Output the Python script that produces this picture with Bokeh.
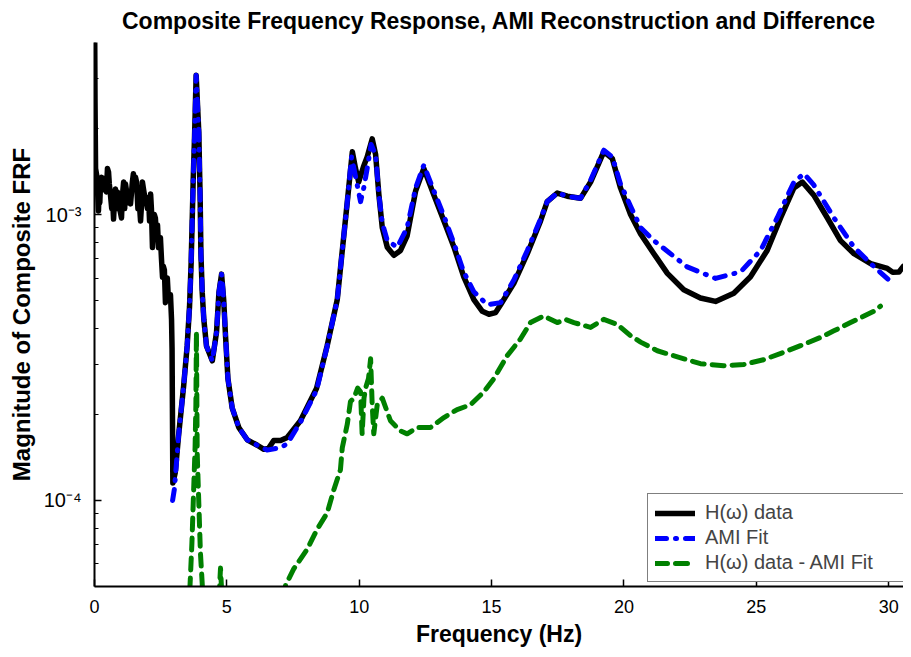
from bokeh.plotting import figure
from bokeh.models import Range1d, Legend, LegendItem, FixedTicker
from bokeh.embed import file_html
from bokeh.resources import INLINE

TITLE = "Composite Frequency Response, AMI Reconstruction and Difference"
X_LABEL = "Frequency (Hz)"
Y_LABEL = "Magnitude of Composite FRF"

x_ticks = [0, 5, 10, 15, 20, 25, 30]
y_tick_values = [1e-4, 1e-3]
y_tick_labels = ["10\u207b\u2074", "10\u207b\u00b3"]
y_minor_ticks = [6e-5, 7e-5, 8e-5, 9e-5,
                 2e-4, 3e-4, 4e-4, 5e-4, 6e-4, 7e-4, 8e-4, 9e-4,
                 2e-3, 3e-3]

# H(omega) data
black_f = [0.00, 0.02, 0.04, 0.08, 0.11, 0.15, 0.17, 0.20, 0.23, 0.27, 0.30, 0.34, 0.40, 0.45,
           0.49, 0.53, 0.56, 0.60, 0.65, 0.68, 0.72, 0.75, 0.79, 0.84, 0.87, 0.91, 0.95, 1.02,
           1.05, 1.10, 1.14, 1.17, 1.21, 1.25, 1.30, 1.36, 1.40, 1.43, 1.47, 1.52, 1.55, 1.59,
           1.64, 1.68, 1.74, 1.78, 1.81, 1.85, 1.90, 1.96, 2.00, 2.04, 2.08, 2.12, 2.15, 2.19,
           2.23, 2.26, 2.30, 2.34, 2.38, 2.42, 2.45, 2.49, 2.53, 2.57, 2.60, 2.64, 2.68, 2.72,
           2.75, 2.79, 2.83, 2.87, 2.91, 2.93, 2.96, 3.05, 3.18, 3.37, 3.50, 3.59, 3.65, 3.69,
           3.73, 3.78, 3.84, 3.94, 3.99, 4.02, 4.07, 4.13, 4.23, 4.45, 4.61, 4.70, 4.80, 4.88,
           4.95, 5.04, 5.20, 5.45, 5.77, 6.15, 6.40, 6.57, 6.77, 7.03, 7.28, 7.78, 8.39, 8.79,
           9.17, 9.36, 9.55, 9.74, 9.86, 9.98, 10.16, 10.30, 10.49, 10.62, 10.74, 10.87, 11.06,
           11.31, 11.56, 11.81, 12.13, 12.44, 12.82, 13.20, 13.58, 13.95, 14.33, 14.65, 14.90,
           15.15, 15.34, 15.84, 16.35, 16.85, 17.10, 17.48, 17.86, 18.36, 18.74, 19.24, 19.56,
           19.87, 20.25, 20.63, 21.13, 21.64, 22.26, 22.89, 23.46, 24.15, 24.78, 25.41, 25.92,
           26.42, 26.74, 27.17, 27.68, 28.18, 28.69, 29.32, 29.95, 30.15, 30.39, 30.56, 30.83]
black_mag = [6.0e-3, 2.46e-3, 1.45e-3, 1.38e-3, 1.25e-3, 1.03e-3, 1.20e-3, 1.10e-3, 1.30e-3,
             1.35e-3, 1.22e-3, 1.34e-3, 1.30e-3, 1.20e-3, 1.45e-3, 1.41e-3, 1.28e-3, 1.18e-3,
             1.05e-3, 1.15e-3, 9.65e-4, 1.10e-3, 1.23e-3, 1.05e-3, 1.20e-3, 1.14e-3, 1.05e-3,
             9.73e-4, 1.15e-3, 1.30e-3, 1.05e-3, 1.28e-3, 1.21e-3, 1.10e-3, 1.18e-3, 1.09e-3,
             1.20e-3, 1.30e-3, 1.39e-3, 1.25e-3, 1.35e-3, 1.30e-3, 1.05e-3, 1.15e-3, 9.50e-4,
             1.10e-3, 1.30e-3, 1.23e-3, 1.15e-3, 1.11e-3, 1.05e-3, 1.15e-3, 9.5e-4, 1.18e-3,
             1.05e-3, 7.67e-4, 9.0e-4, 1.0e-3, 9.73e-4, 8.5e-4, 9.2e-4, 7.67e-4, 8.0e-4, 8.31e-4,
             7.0e-4, 6.04e-4, 6.6e-4, 6.40e-4, 4.92e-4, 5.5e-4, 6.0e-4, 5.12e-4, 5.0e-4, 5.24e-4,
             4.30e-4, 3.39e-4, 1.15e-4, 1.25e-4, 1.70e-4, 2.53e-4, 3.47e-4, 4.77e-4, 6.76e-4,
             9.50e-4, 1.34e-3, 1.89e-3, 3.07e-3, 1.94e-3, 1.16e-3, 7.31e-4, 5.33e-4, 4.30e-4,
             3.47e-4, 3.08e-4, 3.88e-4, 5.33e-4, 6.19e-4, 5.04e-4, 3.76e-4, 2.67e-4, 2.11e-4,
             1.80e-4, 1.63e-4, 1.56e-4, 1.51e-4, 1.52e-4, 1.62e-4, 1.62e-4, 1.66e-4, 1.90e-4,
             2.47e-4, 3.48e-4, 5.04e-4, 7.49e-4, 1.11e-3, 1.66e-3, 1.45e-3, 1.30e-3, 1.47e-3,
             1.59e-3, 1.84e-3, 1.62e-3, 1.18e-3, 9.01e-4, 7.69e-4, 7.20e-4, 7.49e-4, 8.43e-4,
             1.21e-3, 1.45e-3, 1.17e-3, 9.50e-4, 7.69e-4, 6.06e-4, 5.04e-4, 4.59e-4, 4.48e-4,
             4.54e-4, 4.84e-4, 5.75e-4, 7.30e-4, 9.50e-4, 1.11e-3, 1.19e-3, 1.16e-3, 1.14e-3,
             1.30e-3, 1.66e-3, 1.57e-3, 1.24e-3, 1.00e-3, 8.55e-4, 7.30e-4, 6.23e-4, 5.46e-4,
             5.11e-4, 4.97e-4, 5.31e-4, 6.06e-4, 7.49e-4, 9.75e-4, 1.24e-3, 1.30e-3, 1.17e-3,
             9.75e-4, 8.11e-4, 7.30e-4, 6.74e-4, 6.48e-4, 6.29e-4, 6.30e-4, 6.60e-4, 6.48e-4]

# AMI Fit
blue_f = [2.95, 3.02, 3.18, 3.37, 3.50, 3.59, 3.65, 3.69, 3.73, 3.78, 3.84, 3.94, 3.99, 4.02,
          4.07, 4.13, 4.23, 4.45, 4.61, 4.70, 4.80, 4.88, 4.95, 5.04, 5.20, 5.45, 5.77, 6.15,
          6.52, 7.03, 7.28, 7.78, 8.39, 8.79, 9.17, 9.36, 9.55, 9.71, 9.86, 10.05, 10.18, 10.30,
          10.45, 10.62, 10.74, 10.87, 11.06, 11.44, 11.81, 12.13, 12.44, 12.82, 13.20, 13.58,
          13.95, 14.33, 14.84, 15.34, 15.84, 16.35, 16.85, 17.10, 17.48, 17.86, 18.36, 18.74,
          19.24, 19.56, 19.87, 20.25, 20.63, 21.13, 22.39, 23.46, 24.41, 25.16, 25.79, 26.42,
          26.80, 27.17, 27.93, 28.69, 29.32, 30.01]
blue_mag = [1.00e-4, 1.10e-4, 1.70e-4, 2.53e-4, 3.47e-4, 4.77e-4, 6.76e-4, 9.50e-4, 1.34e-3,
            1.89e-3, 3.07e-3, 1.94e-3, 1.16e-3, 7.31e-4, 5.33e-4, 4.30e-4, 3.47e-4, 3.08e-4,
            3.88e-4, 5.33e-4, 6.19e-4, 5.04e-4, 3.76e-4, 2.67e-4, 2.11e-4, 1.80e-4, 1.63e-4,
            1.56e-4, 1.50e-4, 1.53e-4, 1.58e-4, 1.88e-4, 2.43e-4, 3.47e-4, 5.04e-4, 7.49e-4,
            1.11e-3, 1.59e-3, 1.36e-3, 1.11e-3, 1.25e-3, 1.45e-3, 1.76e-3, 1.62e-3, 1.18e-3,
            9.35e-4, 8.11e-4, 7.69e-4, 9.01e-4, 1.24e-3, 1.49e-3, 1.21e-3, 9.88e-4, 7.92e-4,
            6.29e-4, 5.37e-4, 4.84e-4, 4.92e-4, 5.90e-4, 7.49e-4, 9.65e-4, 1.11e-3, 1.19e-3,
            1.16e-3, 1.14e-3, 1.32e-3, 1.68e-3, 1.59e-3, 1.28e-3, 1.07e-3, 9.0e-4, 8.11e-4,
            6.56e-4, 5.98e-4, 6.31e-4, 7.49e-4, 9.75e-4, 1.30e-3, 1.39e-3, 1.27e-3, 9.75e-4,
            7.69e-4, 6.74e-4, 5.90e-4]

# H(omega) data - AMI Fit
green_f = [3.50, 3.56, 3.68, 3.75, 3.80, 3.83, 3.85, 3.88, 3.94, 4.00, 4.07, 4.15, 4.60, 4.70,
           4.76, 4.82, 4.90, 7.00, 7.14, 7.22, 7.53, 8.04, 8.41, 8.79, 9.04, 9.29, 9.36, 9.55,
           9.67, 9.80, 9.94, 10.05, 10.11, 10.18, 10.24, 10.35, 10.43, 10.49, 10.55, 10.68,
           10.87, 11.18, 11.56, 11.81, 12.19, 12.69, 13.20, 13.70, 14.20, 14.71, 15.09, 15.59,
           16.09, 16.47, 16.97, 17.48, 17.79, 18.11, 18.74, 19.24, 19.75, 20.25, 20.63, 21.26,
           22.02, 22.89, 23.77, 24.53, 25.29, 26.04, 26.67, 27.43, 27.93, 28.56, 29.44, 29.69]
green_mag = [3.0e-5, 4.0e-5, 7.1e-5, 1.12e-4, 1.54e-4, 2.16e-4, 3.88e-4, 1.46e-4, 9.8e-5,
             6.6e-5, 5.1e-5, 3.0e-5, 3.0e-5, 4.5e-5, 5.8e-5, 4.5e-5, 3.0e-5, 3.0e-5, 4.5e-5,
             5.06e-5, 5.77e-5, 6.76e-5, 7.93e-5, 9.04e-5, 1.09e-4, 1.28e-4, 1.53e-4, 1.85e-4,
             2.22e-4, 2.28e-4, 2.47e-4, 2.40e-4, 1.71e-4, 2.28e-4, 2.47e-4, 2.67e-4, 3.13e-4,
             2.16e-4, 1.71e-4, 2.16e-4, 2.28e-4, 1.90e-4, 1.75e-4, 1.71e-4, 1.80e-4, 1.80e-4,
             1.95e-4, 2.08e-4, 2.16e-4, 2.40e-4, 2.67e-4, 3.21e-4, 3.67e-4, 4.19e-4, 4.42e-4,
             4.19e-4, 4.30e-4, 4.19e-4, 4.03e-4, 4.30e-4, 4.13e-4, 3.77e-4, 3.58e-4, 3.34e-4,
             3.18e-4, 3.01e-4, 2.96e-4, 2.99e-4, 3.11e-4, 3.30e-4, 3.48e-4, 3.72e-4, 3.92e-4,
             4.19e-4, 4.59e-4, 4.78e-4]

legend_labels = ["H(\u03c9) data", "AMI Fit", "H(\u03c9) data - AMI Fit"]

FONT = "Liberation Sans"

p = figure(width=903, height=649,
           x_range=Range1d(0, 30.56), y_range=Range1d(5e-5, 4e-3),
           y_axis_type="log", output_backend="svg", toolbar_location=None,
           min_border_left=94, min_border_right=0, min_border_top=40, min_border_bottom=57,
           title=TITLE)
p.outline_line_color = None
p.grid.visible = False

p.title.text_font = FONT
p.title.text_font_style = "bold"
p.title.text_font_size = "23px"
p.title.text_color = "black"
p.title.align = "center"
p.title.vertical_align = "top"
p.title.standoff = 14

r_black = p.line(black_f, black_mag, line_color="black", line_width=5.5,
                 line_join="round", line_cap="round")
r_blue = p.line(blue_f, blue_mag, line_color="#0000FF", line_width=5,
                line_dash="11 9 1 9", line_cap="round", line_join="round")
r_green = p.line(green_f, green_mag, line_color="#008000", line_width=5,
                 line_dash="12 8", line_cap="round", line_join="round")

xa = p.xaxis[0]
ya = p.yaxis[0]
xa.ticker = FixedTicker(ticks=x_ticks)
ya.ticker = FixedTicker(ticks=y_tick_values, minor_ticks=y_minor_ticks)
ya.major_label_overrides = dict(zip(y_tick_values, y_tick_labels))
for ax in (xa, ya):
    ax.axis_line_width = 2
    ax.axis_line_color = "black"
    ax.major_tick_in = 7
    ax.major_tick_out = 0
    ax.major_tick_line_width = 1.5
    ax.major_tick_line_color = "black"
    ax.major_label_text_font = FONT
    ax.major_label_text_font_size = "18px"
    ax.major_label_text_color = "black"
    ax.axis_label_text_font = FONT
    ax.axis_label_text_font_style = "bold"
    ax.axis_label_text_color = "black"
xa.axis_label_text_font_size = "23px"
ya.axis_label_text_font_size = "24px"
ya.major_label_text_font_size = "20px"
xa.minor_tick_line_color = None
ya.minor_tick_in = 4
ya.minor_tick_out = 0
ya.minor_tick_line_color = "black"
ya.minor_tick_line_width = 1
xa.axis_label = X_LABEL
ya.axis_label = Y_LABEL
xa.major_label_standoff = 13
ya.major_label_standoff = 13
xa.axis_label_standoff = 5
ya.axis_label_standoff = 6

legend = Legend(items=[LegendItem(label=legend_labels[0], renderers=[r_black]),
                       LegendItem(label=legend_labels[1], renderers=[r_blue]),
                       LegendItem(label=legend_labels[2], renderers=[r_green])],
                location=(553, 4), margin=0, padding=7, spacing=2,
                glyph_width=40, glyph_height=20, label_height=20, label_width=192,
                label_standoff=10, border_line_color="black", border_line_width=1.5,
                background_fill_color="white", background_fill_alpha=1.0,
                label_text_font=FONT, label_text_font_size="20px")
p.add_layout(legend)

open("out.html", "w").write(file_html(p, INLINE))
